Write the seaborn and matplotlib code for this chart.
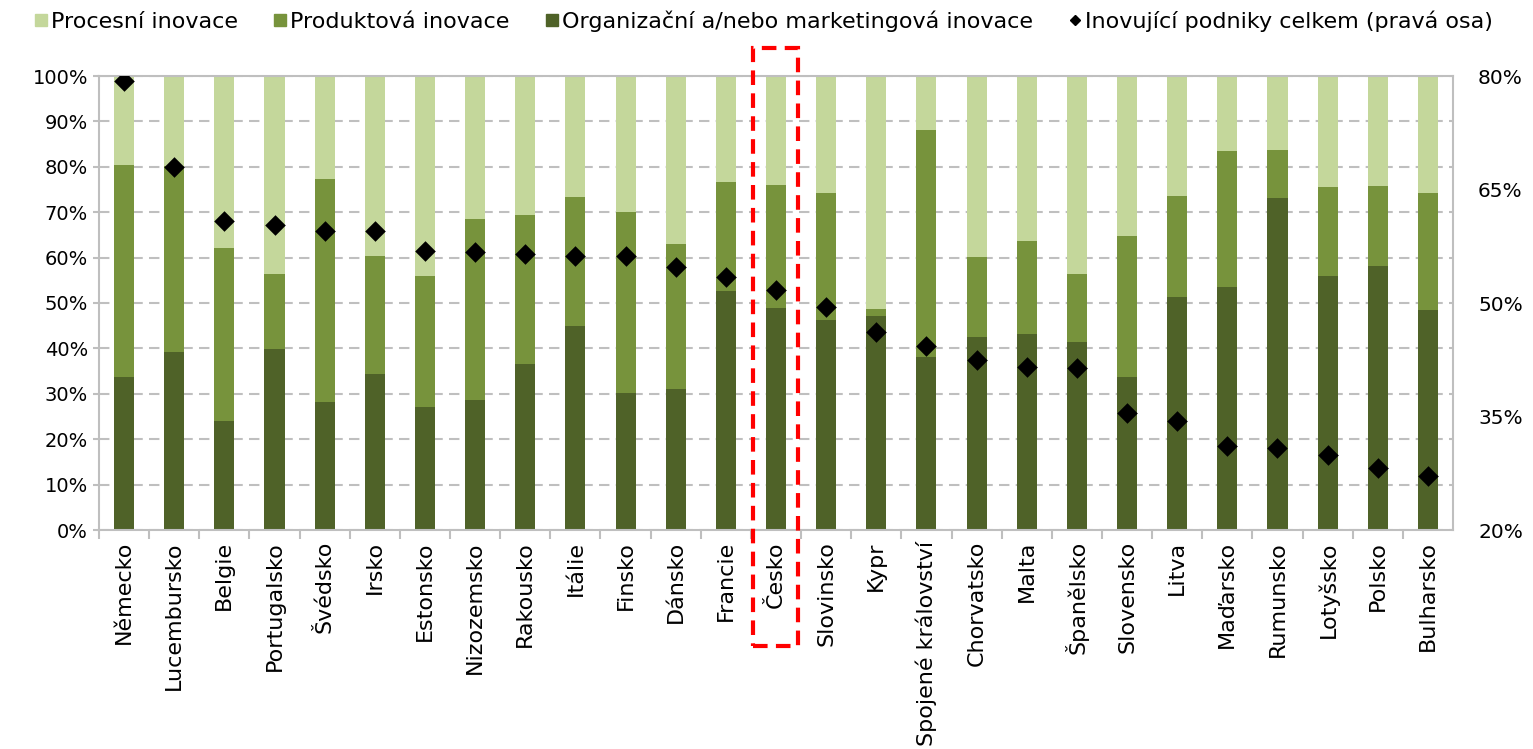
import numpy as np
import pandas as pd
import matplotlib
matplotlib.use("Agg")
import matplotlib.pyplot as plt
from matplotlib.lines import Line2D
from matplotlib.patches import Rectangle
from matplotlib.ticker import FixedLocator, FuncFormatter
import seaborn as sns

# Countries (x-axis categories)
countries = [
    "Německo", "Lucembursko", "Belgie", "Portugalsko", "Švédsko", "Irsko",
    "Estonsko", "Nizozemsko", "Rakousko", "Itálie", "Finsko", "Dánsko",
    "Francie", "Česko", "Slovinsko", "Kypr", "Spojené království",
    "Chorvatsko", "Malta", "Španělsko", "Slovensko", "Litva", "Maďarsko",
    "Rumunsko", "Lotyšsko", "Polsko", "Bulharsko",
]

# Shares of innovation types (percent of innovating firms, stacked to 100 %)
org_share = [33.8, 39.2, 24.0, 39.8, 28.3, 34.4, 27.0, 28.6, 36.6, 45.0, 30.1,
             31.1, 52.6, 48.8, 46.3, 47.2, 38.0, 42.6, 43.2, 41.4, 33.8, 51.4,
             53.6, 73.1, 56.0, 58.1, 48.5]
prod_share = [46.6, 41.0, 38.1, 16.5, 49.0, 26.0, 28.9, 39.9, 32.7, 28.4, 39.9,
              31.8, 24.0, 27.3, 27.9, 1.4, 50.0, 17.6, 20.5, 14.9, 31.0, 22.2,
              29.8, 10.7, 19.5, 17.7, 25.8]
proc_share = [19.6, 19.8, 37.9, 43.7, 22.7, 39.6, 44.1, 31.5, 30.7, 26.6, 30.0,
              37.1, 23.4, 23.9, 25.8, 51.4, 12.0, 39.8, 36.3, 43.7, 35.2, 26.4,
              16.6, 16.2, 24.5, 24.2, 25.7]

# Innovating enterprises in total (right axis, percent)
innov_total = [79.3, 68.0, 60.9, 60.3, 59.5, 59.5, 56.9, 56.7, 56.5, 56.2, 56.2,
               54.7, 53.5, 51.7, 49.5, 46.2, 44.3, 42.5, 41.6, 41.4, 35.5, 34.4,
               31.1, 30.8, 29.9, 28.2, 27.1]

left_ticks = [0, 10, 20, 30, 40, 50, 60, 70, 80, 90, 100]
right_ticks = [20, 35, 50, 65, 80]

labels = ["Procesní inovace", "Produktová inovace",
          "Organizační a/nebo marketingová inovace",
          "Inovující podniky celkem (pravá osa)"]

c_proc = "#C4D79B"
c_prod = "#77933C"
c_org = "#4F6228"
c_grid = "#BFBFBF"

sns.set_theme(style="white")
plt.rcParams["font.family"] = ["DejaVu Sans"]
plt.rcParams["text.color"] = "black"
plt.rcParams["xtick.color"] = "black"
plt.rcParams["ytick.color"] = "black"

df = pd.DataFrame({
    "country": countries,
    "org": org_share,
    "prod": prod_share,
    "proc": proc_share,
    "total": innov_total,
})
df["top_org"] = df["org"]
df["top_prod"] = df["org"] + df["prod"]
df["top_proc"] = df["org"] + df["prod"] + df["proc"]

fig = plt.figure(figsize=(15.33, 7.49), dpi=100)
ax = fig.add_axes([99 / 1533, 1 - 530 / 749, (1453 - 99) / 1533, 454 / 749])

# Stacked bars: draw cumulative heights from the top layer down
for col, colr in [("top_proc", c_proc), ("top_prod", c_prod), ("top_org", c_org)]:
    sns.barplot(data=df, x="country", y=col, color=colr, saturation=1,
                width=0.4, errorbar=None, ax=ax, zorder=2, linewidth=0)

n = len(countries)
ax.set_xlim(-0.5, n - 0.5)
ax.set_ylim(0, 100)
ax.set_xlabel("")
ax.set_ylabel("")
ax.yaxis.set_major_locator(FixedLocator(left_ticks))
ax.yaxis.set_major_formatter(FuncFormatter(lambda v, p: f"{v:.0f}%"))
ax.grid(axis="y", color=c_grid, linestyle=(0, (5, 3)), linewidth=1.5, zorder=0)
ax.set_axisbelow(True)
for s in ax.spines.values():
    s.set_color(c_grid)
    s.set_linewidth(1.5)
ax.tick_params(axis="y", which="major", length=4, color=c_grid, width=1.5,
               pad=4, labelsize=14, labelcolor="black", left=True)
ax.tick_params(axis="x", which="major", length=0, pad=8, labelsize=16,
               labelcolor="black", labelrotation=90)
ax.set_xticks(np.arange(n) - 0.5, minor=True)
ax.tick_params(axis="x", which="minor", length=6.5, color=c_grid, width=1.5,
               bottom=True)

# Right axis: innovating enterprises in total
ax2 = ax.twinx()
sns.scatterplot(data=df, x="country", y="total", marker="D", color="black",
                s=110, linewidth=0, ax=ax2, zorder=5, legend=False)
ax2.set_ylim(20, 80)
ax2.yaxis.set_major_locator(FixedLocator(right_ticks))
ax2.yaxis.set_major_formatter(FuncFormatter(lambda v, p: f"{v:.0f}%"))
ax2.set_ylabel("")
ax2.tick_params(axis="y", length=0, pad=18, labelsize=14.5, labelcolor="black")
for s in ax2.spines.values():
    s.set_visible(False)
ax2.set_xlim(-0.5, n - 0.5)

# Highlight frame around Czechia
ic = countries.index("Česko")
frame = Rectangle((ic - 0.465, -25.6), 0.905, 131.8,
                  fill=False, edgecolor="#FF0000", linewidth=3,
                  linestyle=(0, (3.5, 2)), clip_on=False, zorder=10)
ax2.add_patch(frame)
frame.set_transform(ax.transData)

handles = [
    Line2D([], [], marker="s", linestyle="none", markersize=8,
           markerfacecolor=c_proc, markeredgecolor=c_proc),
    Line2D([], [], marker="s", linestyle="none", markersize=8,
           markerfacecolor=c_prod, markeredgecolor=c_prod),
    Line2D([], [], marker="s", linestyle="none", markersize=8,
           markerfacecolor=c_org, markeredgecolor=c_org),
    Line2D([], [], marker="D", linestyle="none", markersize=5,
           markerfacecolor="black", markeredgecolor="black"),
]
fig.legend(handles, labels, loc="center", bbox_to_anchor=(0.498, 0.972),
           ncol=4, frameon=False, fontsize=16, handlelength=0.6,
           handletextpad=0.15, columnspacing=1.6, borderaxespad=0)

fig.savefig("out.png", dpi=100)
